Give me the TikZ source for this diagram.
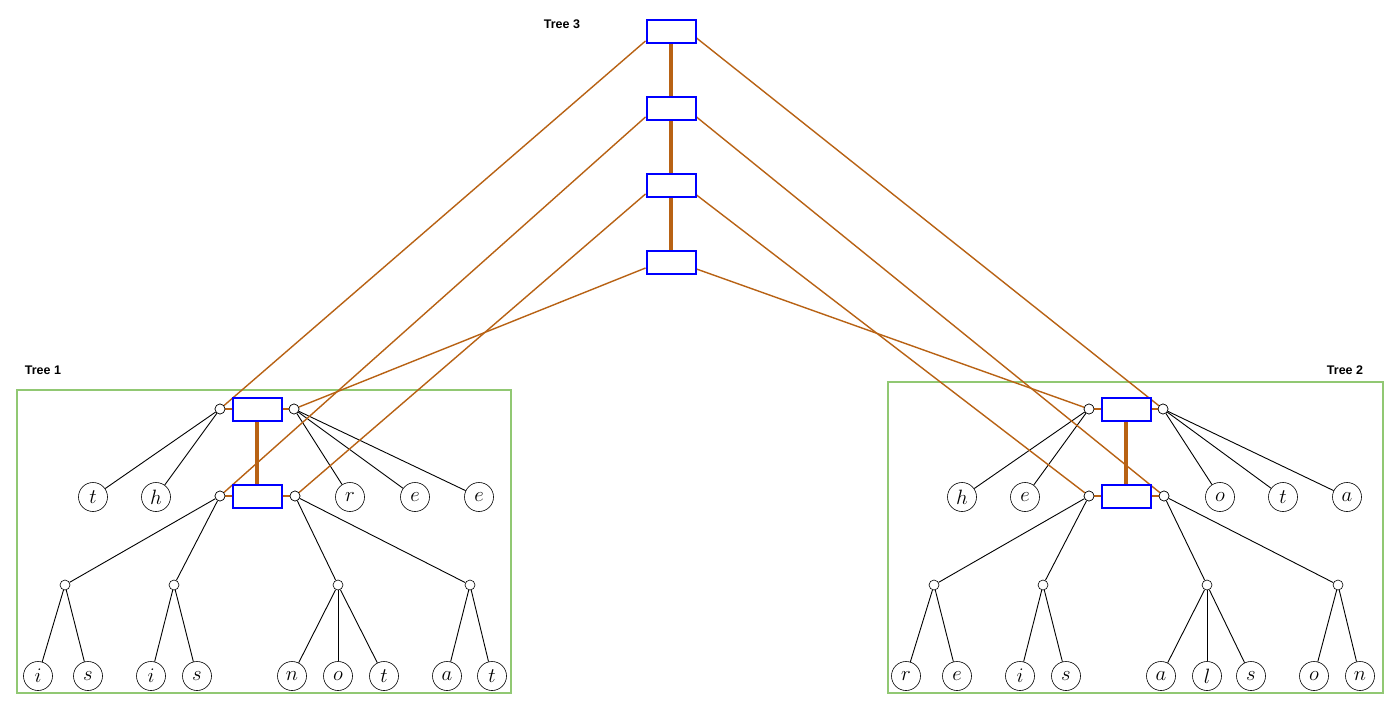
\documentclass[tikz,border=0pt]{standalone}
\usepackage{fontspec}
\newfontfamily\labfont{Liberation Sans}
\begin{document}
\begin{tikzpicture}[x=1pt,y=-1pt,
  br/.style={draw=brn,line width=1.4pt},
  thick link/.style={draw=brn,line width=4pt},
  box/.style={draw=blue,line width=2pt,fill=white,minimum width=49pt,minimum height=23pt,inner sep=0pt},
  dot/.style={circle,draw=black,line width=0.6pt,fill=white,minimum size=10pt,inner sep=0pt},
  leaf/.style={circle,draw=black,line width=0.6pt,fill=white,minimum size=29pt,inner sep=0pt,font=\fontsize{21}{23}\selectfont},
  edge/.style={draw=black,line width=0.9pt},
  frame/.style={draw=grn,line width=1.4pt},
  lab/.style={font=\labfont\bfseries\fontsize{12.5}{14}\selectfont}
]
\definecolor{brn}{RGB}{184,98,20}
\definecolor{grn}{RGB}{145,200,115}
\useasboundingbox (0,0) rectangle (1400,703);
\fill[white] (0,0) rectangle (1400,703);

% frames
\draw[frame] (17,390) rectangle (511,693);
\draw[frame] (888,382) rectangle (1383,693);
\node[lab] (L1) at (43,370) {Tree 1};
\node[lab] (L2) at (1345,370) {Tree 2};
\node[lab] (L3) at (562,24) {Tree 3};

% Tree 3 boxes
\node[box] (B1) at (671,32) {};
\node[box] (B2) at (671,109) {};
\node[box] (B3) at (671,186) {};
\node[box] (B4) at (671,263) {};

% Tree 1
\node[box] (P1) at (257,409) {};
\node[box] (Q1) at (257,496) {};
\node[dot] (pl1) at (220,409) {};
\node[dot] (pr1) at (294,409) {};
\node[dot] (ql1) at (220,496) {};
\node[dot] (qr1) at (295,496) {};
\node[leaf] (a1) at (93,497) {$t$};
\node[leaf] (a2) at (156,497) {$h$};
\node[leaf] (a3) at (350,497) {$r$};
\node[leaf] (a4) at (415,497) {$e$};
\node[leaf] (a5) at (479,497) {$e$};
\node[dot] (s1) at (65,585) {};
\node[dot] (s2) at (174,585) {};
\node[dot] (s3) at (338,585) {};
\node[dot] (s4) at (470,585) {};
\node[leaf] (c1) at (38,676) {$i$};
\node[leaf] (c2) at (88,676) {$s$};
\node[leaf] (c3) at (151,676) {$i$};
\node[leaf] (c4) at (197,676) {$s$};
\node[leaf] (c5) at (292,676) {$n$};
\node[leaf] (c6) at (338,676) {$o$};
\node[leaf] (c7) at (384,676) {$t$};
\node[leaf] (c8) at (447,676) {$a$};
\node[leaf] (c9) at (492,676) {$t$};

% Tree 2
\node[box] (P2) at (1126,409) {};
\node[box] (Q2) at (1126,496) {};
\node[dot] (pl2) at (1089,409) {};
\node[dot] (pr2) at (1163,409) {};
\node[dot] (ql2) at (1089,496) {};
\node[dot] (qr2) at (1164,496) {};
\node[leaf] (d1) at (962,497) {$h$};
\node[leaf] (d2) at (1025,497) {$e$};
\node[leaf] (d3) at (1220,497) {$o$};
\node[leaf] (d4) at (1283,497) {$t$};
\node[leaf] (d5) at (1347,497) {$a$};
\node[dot] (u1) at (934,585) {};
\node[dot] (u2) at (1043,585) {};
\node[dot] (u3) at (1207,585) {};
\node[dot] (u4) at (1338,585) {};
\node[leaf] (e1) at (906,676) {$r$};
\node[leaf] (e2) at (957,676) {$e$};
\node[leaf] (e3) at (1020,676) {$i$};
\node[leaf] (e4) at (1066,676) {$s$};
\node[leaf] (e5) at (1161,676) {$a$};
\node[leaf] (e6) at (1207,676) {$l$};
\node[leaf] (e7) at (1251,676) {$s$};
\node[leaf] (e8) at (1314,676) {$o$};
\node[leaf] (e9) at (1360,676) {$n$};

% black tree edges
\draw[edge] (pl1) -- (a1);
\draw[edge] (pl1) -- (a2);
\draw[edge] (pr1) -- (a3);
\draw[edge] (pr1) -- (a4);
\draw[edge] (pr1) -- (a5);
\draw[edge] (ql1) -- (s1);
\draw[edge] (ql1) -- (s2);
\draw[edge] (qr1) -- (s3);
\draw[edge] (qr1) -- (s4);
\draw[edge] (s1) -- (c1);
\draw[edge] (s1) -- (c2);
\draw[edge] (s2) -- (c3);
\draw[edge] (s2) -- (c4);
\draw[edge] (s3) -- (c5);
\draw[edge] (s3) -- (c6);
\draw[edge] (s3) -- (c7);
\draw[edge] (s4) -- (c8);
\draw[edge] (s4) -- (c9);

\draw[edge] (pl2) -- (d1);
\draw[edge] (pl2) -- (d2);
\draw[edge] (pr2) -- (d3);
\draw[edge] (pr2) -- (d4);
\draw[edge] (pr2) -- (d5);
\draw[edge] (ql2) -- (u1);
\draw[edge] (ql2) -- (u2);
\draw[edge] (qr2) -- (u3);
\draw[edge] (qr2) -- (u4);
\draw[edge] (u1) -- (e1);
\draw[edge] (u1) -- (e2);
\draw[edge] (u2) -- (e3);
\draw[edge] (u2) -- (e4);
\draw[edge] (u3) -- (e5);
\draw[edge] (u3) -- (e6);
\draw[edge] (u3) -- (e7);
\draw[edge] (u4) -- (e8);
\draw[edge] (u4) -- (e9);

% short orange links
\draw[br] (pl1) -- (P1.west);
\draw[br] (P1.east) -- (pr1);
\draw[br] (ql1) -- (Q1.west);
\draw[br] (Q1.east) -- (qr1);
\draw[br] (pl2) -- (P2.west);
\draw[br] (P2.east) -- (pr2);
\draw[br] (ql2) -- (Q2.west);
\draw[br] (Q2.east) -- (qr2);

% thick vertical links
\draw[thick link] (B1.south) -- (B2.north);
\draw[thick link] (B2.south) -- (B3.north);
\draw[thick link] (B3.south) -- (B4.north);
\draw[thick link] (P1.south) -- (Q1.north);
\draw[thick link] (P2.south) -- (Q2.north);

% long orange links
\draw[br] ([yshift=-9pt]B1.west) -- (pl1);
\draw[br] ([yshift=-6pt]B1.east) -- (pr2);
\draw[br] ([yshift=-8pt]B2.west) -- (ql1);
\draw[br] ([yshift=-8pt]B2.east) -- (qr2);
\draw[br] ([yshift=-8pt]B3.west) -- (qr1);
\draw[br] ([yshift=-9pt]B3.east) -- (ql2);
\draw[br] ([yshift=-5pt]B4.west) -- (pr1);
\draw[br] ([yshift=-6pt]B4.east) -- (pl2);

% redraw nodes on top
\foreach \n in {B1,B2,B3,B4,P1,Q1,P2,Q2}{\node[box] at (\n) {};}
\foreach \n in {pl1,pr1,ql1,qr1,pl2,pr2,ql2,qr2}{\node[dot] at (\n) {};}
\end{tikzpicture}
\end{document}
